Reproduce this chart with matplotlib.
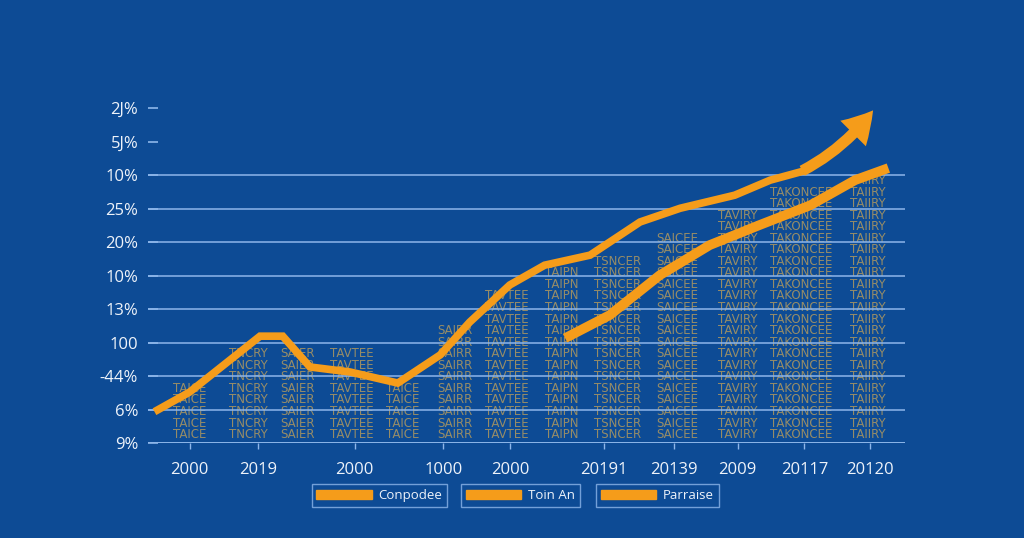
import matplotlib.pyplot as plt
from matplotlib.patches import Patch

plt.rcParams['font.family'] = ['Open Sans', 'DejaVu Sans']

bg = '#0d4b95'
orange = '#f59c1a'
grid_col = '#8db6ea'
txt_col = '#eef3fa'

# y axis labels (bottom to top)
y_labels = ['9%', '6%', '-44%', '100', '13%', '10%', '20%', '25%', '10%', '5J%', '2J%']
grid_levels = [0, 1, 2, 3, 4, 5, 6, 7, 8]

# x axis labels and positions (0-100 scale)
x_labels = ['2000', '2019', '2000', '1000', '2000', '20191', '20139', '2009', '20117', '20120']
x_pos = [5.5, 14.5, 27.3, 39.0, 47.8, 60.2, 69.5, 77.9, 86.7, 95.4]

# main series
main_x = [1.3, 5.5, 14.8, 17.8, 21.4, 26.7, 33.0, 38.6, 42.5, 47.8, 52.4, 58.4, 65.0, 70.3, 77.5, 82.2, 86.1]
main_y = [0.99, 1.52, 3.19, 3.19, 2.27, 2.12, 1.79, 2.63, 3.61, 4.72, 5.31, 5.61, 6.60, 7.01, 7.40, 7.85, 8.09]
arrow_tip = (96.0, 10.0)

# second series
sec_x = [55.1, 61.0, 67.6, 74.2, 80.8, 87.5, 93.4, 97.8]
sec_y = [3.13, 3.82, 5.01, 5.91, 6.51, 7.10, 7.85, 8.21]

# background text columns: x centre, number of rows, words
col_x = [5.5, 13.2, 19.8, 26.9, 33.6, 40.5, 47.4, 54.6, 62.0, 69.9, 77.9, 86.3, 95.1]
col_rows = [5, 8, 8, 8, 5, 10, 13, 15, 16, 18, 20, 22, 23]
col_words = ['TAICE', 'TNCRY', 'SAIER', 'TAVTEE', 'TAICE', 'SAIRR', 'TAVTEE', 'TAIPN',
             'TSNCER', 'SAICEE', 'TAVIRY', 'TAKONCEE', 'TAIIRY']

fig = plt.figure(figsize=(10.24, 5.38), dpi=100, facecolor=bg)
ax = fig.add_axes([0.1445, 0.1766, 0.7393, 0.656], facecolor=bg)
ax.set_xlim(0, 100)
ax.set_ylim(0, 10.54)

for g in grid_levels:
    ax.axhline(g, color=grid_col, lw=1.1, zorder=3)
ax.axhline(0, color=grid_col, lw=2.0, zorder=3)

# faint text columns
for cx, n, w in zip(col_x, col_rows, col_words):
    for r in range(n):
        ax.text(cx, 0.25 + r * 0.345, w, ha='center', va='center', fontsize=8.5,
                color='#b99d5c', alpha=0.8, zorder=2, family='DejaVu Sans Condensed')

ax.plot(main_x, main_y, color=orange, lw=5.5, solid_joinstyle='miter', zorder=4)
ax.annotate('', xy=arrow_tip, xytext=(main_x[-1], main_y[-1]),
            arrowprops=dict(arrowstyle='simple,head_length=2.2,head_width=2.6,tail_width=0.8',
                            color=orange, connectionstyle='arc3,rad=0.12', lw=0), zorder=4)
ax.plot(sec_x, sec_y, color=orange, lw=7, solid_capstyle='butt', zorder=4)

ax.set_yticks(range(len(y_labels)))
ax.set_yticklabels(y_labels)
ax.set_xticks(x_pos)
ax.set_xticklabels(x_labels)
ax.tick_params(axis='y', direction='in', length=7, width=1.2, color=grid_col,
               labelsize=12, labelcolor=txt_col, pad=7)
ax.tick_params(axis='x', direction='out', length=4, width=1, color=grid_col,
               labelsize=12, labelcolor=txt_col, pad=10)
for s in ax.spines.values():
    s.set_visible(False)

legend_names = ['Conpodee', 'Toin An', 'Parraise']
legend_anchor = [(0.298, 0.046), (0.444, 0.046), (0.576, 0.046)]
for name, anc in zip(legend_names, legend_anchor):
    leg = fig.legend(handles=[Patch(facecolor=orange, edgecolor=orange, label=name)],
                     loc='lower left', bbox_to_anchor=anc, frameon=True, fancybox=False,
                     handlelength=4.2, handleheight=0.6, fontsize=9.5,
                     borderpad=0.35, handletextpad=0.5)
    leg.get_frame().set_facecolor(bg)
    leg.get_frame().set_edgecolor(grid_col)
    leg.get_frame().set_linewidth(1)
    for t in leg.get_texts():
        t.set_color(txt_col)

fig.savefig('out.png', dpi=100, facecolor=bg)
